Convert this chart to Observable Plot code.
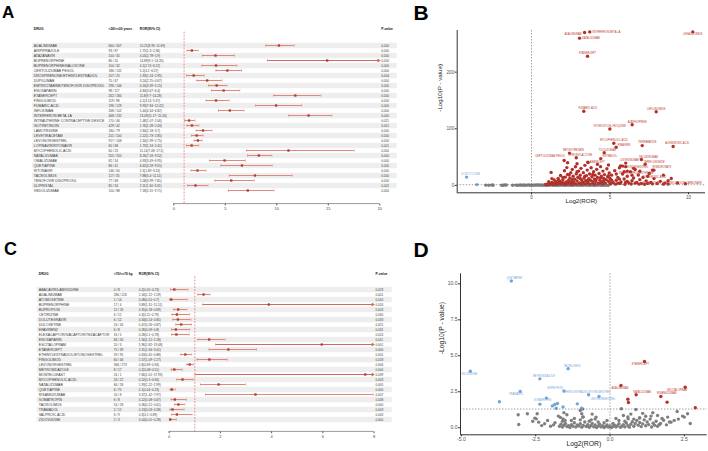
<!DOCTYPE html>
<html><head><meta charset="utf-8">
<script src="https://cdn.jsdelivr.net/npm/d3@7"></script>
<script src="https://cdn.jsdelivr.net/npm/@observablehq/plot@0.6"></script>
<style>
body{margin:0;background:#fff;}
#root{position:relative;width:708px;height:451px;overflow:hidden;font-family:"Liberation Sans",Arial,sans-serif;background:#fff;}
.panel{position:absolute;}
.panel svg{max-width:none;}
.letter{position:absolute;font-weight:bold;line-height:1;color:#000;font-family:"Liberation Sans",Arial,sans-serif;}
</style></head><body><div id="root"></div>
<script>
// ---------------- Panel A data (forest) ----------------
const A_headers = ["DRUG", "<30/>=30 years", "ROR(95% CI)", "P-value"];
const A_drugs = ["ADALIMUMAB","ARIPIPRAZOLE","ATAZANAVIR","BUPRENORPHINE","BUPRENORPHINE/NALOXONE","CERTOLIZUMAB PEGOL","DROSPIRENONE/ETHINYLESTRADIOL","DUPILUMAB","EMTRICITABINE/TENOFOVIR DISOPROXIL","ENOXAPARIN","ETANERCEPT","FINGOLIMOD","FUMARIC ACID","INFLIXIMAB","INTERFERON BETA-1A","INTRAUTERINE CONTRACEPTIVE DEVICE","ISOTRETINOIN","LAMOTRIGINE","LEVETIRACETAM","LEVONORGESTREL","LOPINAVIR/RITONAVIR","MYCOPHENOLIC ACID","NATALIZUMAB","OMALIZUMAB","QUETIAPINE","RITONAVIR","TACROLIMUS","TENOFOVIR DISOPROXIL","ULIPRISTAL","VEDOLIZUMAB"];
const A_counts = ["660 / 307","93 / 87","100 / 45","86 / 20","100 / 32","186 / 132","107 / 25","75 / 67","296 / 146","98 / 117","262 / 184","119 / 98","196 / 129","268 / 102","468 / 232","170 / 46","429 / 42","180 / 79","201 / 100","917 / 168","60 / 68","60 / 23","555 / 250","82 / 54","86 / 41","146 / 60","117 / 35","77 / 68","85 / 34","150 / 88"];
const A_ror = [10.21,1.75,4.05,14.89,4.1,5.2,1.93,3.24,4.16,4.84,11.8,4.1,9.93,5.44,13.09,1.48,1.76,2.84,2.22,2.34,1.73,11.14,8.26,4.93,6.62,2.3,7.88,5.58,2.11,7.18];
const A_lo = [8.93,1.3,2.78,9.1,2.74,4.1,1.24,2.25,3.39,3.67,9.7,3.14,7.94,4.34,11.17,1.07,1.28,2.18,1.73,1.99,1.24,7.08,7.16,3.49,4.59,1.69,5.4,3.99,1.34,5.31];
const A_hi = [11.69,2.36,5.9,24.35,6.12,6.57,2.95,4.67,5.15,6.4,14.28,5.37,12.42,6.82,15.34,2.06,2.43,3.7,2.85,2.75,2.41,17.5,9.52,6.95,9.55,3.13,11.51,7.81,3.31,9.71];
const A_p = ["0.000","0.000","0.000","0.000","0.000","0.000","0.004","0.000","0.000","0.000","0.000","0.000","0.000","0.000","0.000","0.021","0.001","0.000","0.000","0.000","0.001","0.000","0.000","0.000","0.000","0.000","0.000","0.000","0.002","0.000"];
const A_ticks = [0,5,10,15,20];
const A_ref = 1;

// ---------------- Panel C data (forest) ----------------
const C_headers = ["DRUG", "<70/>=70 kg", "ROR(95% CI)", "P-value"];
const C_drugs = ["ABACAVIR/LAMIVUDINE","ADALIMUMAB","ATOMOXETINE","BUPRENORPHINE","BUPROPION","CETIRIZINE","DOLUTEGRAVIR","DULOXETINE","EFAVIRENZ","ELEXACAFTOR/IVACAFTOR/TEZACAFTOR","ENOXAPARIN","ESCITALOPRAM","ETANERCEPT","ETHINYLESTRADIOL/ETONOGESTREL","FINGOLIMOD","LEVONORGESTREL","METRONIDAZOLE","MONTELUKAST","MYCOPHENOLIC ACID","NATALIZUMAB","QUETIAPINE","RISANKIZUMAB","SOMATROPIN","TACROLIMUS","TRAMADOL","VALPROIC ACID","ZIDOVUDINE"];
const C_counts = ["4 / 8","286 / 226","1 / 14","17 / 4","12 / 26","6 / 12","6 / 12","16 / 34","6 / 8","16 / 5","66 / 56","20 / 3","75 / 39","59 / 95","60 / 46","366 / 273","8 / 17","16 / 1","26 / 22","66 / 28","6 / 75","16 / 8","6 / 8","54 / 28","2 / 12","6 / 9","2 / 3"];
const C_ror = [0.2,1.34,0.08,3.89,0.35,0.3,0.34,0.47,0.26,0.28,1.56,5.96,2.31,0.63,1.57,0.8,0.2,7.66,0.52,1.93,0.1,3.37,0.22,0.36,0.13,0.3,0.04];
const C_lo = [0.05,1.12,0.01,1.31,0.18,0.11,0.14,0.26,0.09,0.1,1.12,1.82,1.56,0.45,1.09,0.69,0.08,1.01,0.3,1.22,0.04,1.42,0.08,0.21,0.03,0.1,0.01];
const C_hi = [0.73,1.59,0.7,11.51,0.69,0.79,0.85,0.87,0.8,0.78,2.18,19.48,3.41,0.88,2.27,0.94,0.51,57.93,0.94,2.99,0.23,7.97,0.67,0.61,0.58,0.89,0.28];
const C_p = ["0.023","0.001","0.016","0.016","0.003","0.030","0.033","0.021","0.031","0.024","0.011","0.001","0.000","0.005","0.018","0.006","0.000","0.039","0.043","0.005","0.000","0.007","0.008","0.000","0.003","0.043","0.000"];
const C_ticks = [0,2,4,6,8];
const C_ref = 1;

// ---------------- Panel B data (volcano) ----------------
const B_gray = [[-2.9,0.5],[-2.7,0.3],[-2.5,0.8],[-2.45,0.2],[-1.9,0.4],[-1.8,0.2],[-1.7,0.7],[-1.6,0.9],[-1.2,0.3],[-1.0,0.6],[-0.9,0.2],[-0.8,0.5],[-0.7,0.9],[-0.6,0.3],[-0.5,0.7],[-0.4,0.2],[-0.3,0.5],[-0.2,1.0],[-0.1,0.3],[0.0,0.6],[0.1,0.2],[0.2,0.8],[0.3,0.4],[0.4,1.1],[0.5,0.2],[0.6,0.7],[0.7,0.3],[0.8,0.9],[0.9,0.4],[1.0,0.1],[1.1,0.8],[1.2,0.5],[1.3,1.0],[1.4,0.3],[1.5,0.7],[1.6,0.2],[1.7,0.9],[1.8,0.4],[1.9,1.1],[2.0,0.3],[2.1,0.6],[2.2,0.2],[2.3,0.9],[2.4,0.4],[2.5,0.7],[2.6,0.1],[2.7,0.5],[2.8,1.0],[2.9,0.3],[3.0,0.6],[3.1,0.2],[3.2,0.8],[3.3,0.4],[3.4,1.1],[3.5,0.3],[3.6,0.6],[3.7,0.2],[3.8,0.9],[3.9,0.5],[4.0,0.3],[4.1,0.8],[4.2,0.4],[4.3,1.0],[4.4,0.2],[4.5,0.6],[4.6,0.3],[4.7,0.8],[4.8,0.4],[4.9,0.2]];
const B_up = [[0.9,1.6],[1.0,2.4],[1.05,1.8],[1.15,3.1],[1.2,2.0],[1.25,23],[1.3,5.2],[1.35,1.7],[1.4,3.6],[1.45,9.5],[1.5,2.2],[1.55,6.8],[1.6,4.1],[1.65,1.9],[1.7,12.5],[1.75,3.3],[1.8,7.7],[1.85,17.5],[1.9,2.6],[1.95,5.4],[2.0,10.2],[2.05,3.8],[2.1,26],[2.12,1.8],[2.15,14.6],[2.2,6.1],[2.25,31.5],[2.28,2.9],[2.3,19.3],[2.35,8.8],[2.4,4.4],[2.45,12.9],[2.5,22.4],[2.52,2.1],[2.55,6.9],[2.6,28.3],[2.62,3.5],[2.65,16.2],[2.7,5.1],[2.75,10.8],[2.8,33.1],[2.82,2.3],[2.85,20.4],[2.9,7.9],[2.95,14.2],[3.0,25.3],[3.02,3.2],[3.05,4.6],[3.1,18.1],[3.15,30.2],[3.18,2.0],[3.2,9.7],[3.25,6.3],[3.3,22.6],[3.35,13.1],[3.4,35.5],[3.42,2.7],[3.45,8.2],[3.5,17.3],[3.55,27.1],[3.58,3.9],[3.6,5.4],[3.65,11.9],[3.7,20.1],[3.72,2.4],[3.75,9.1],[3.8,31.2],[3.85,15.3],[3.9,4.2],[3.95,24.1],[4.0,11.2],[4.02,2.2],[4.05,18.2],[4.1,7.1],[4.15,28.4],[4.2,14.1],[4.25,3.3],[4.3,21.2],[4.35,9.3],[4.4,33.2],[4.45,16.1],[4.5,6.2],[4.52,2.5],[4.55,25.3],[4.6,12.2],[4.65,19.1],[4.7,4.1],[4.75,10.3],[4.8,29.4],[4.85,15.2],[4.9,7.3],[4.95,22.1],[5.0,12.4],[5.05,2.9],[5.1,18.2],[5.2,5.3],[5.3,26.1],[5.35,2.3],[5.4,9.2],[5.5,14.3],[5.6,31.1],[5.65,3.6],[5.7,6.2],[5.8,20.1],[5.9,11.3],[5.95,2.1],[6.0,33.2],[6.1,16.1],[6.2,4.2],[6.3,24.1],[6.35,2.6],[6.4,8.3],[6.5,13.2],[6.6,28.1],[6.7,5.2],[6.8,18.3],[6.85,2.4],[6.9,10.2],[7.0,3.3],[7.1,14.2],[7.2,2.2],[7.3,8.1],[7.5,21.2],[7.6,5.1],[7.7,2.8],[7.8,12.1],[8.0,3.4],[8.2,7.2],[8.4,2.3],[8.5,4.1],[8.9,12.2],[9.3,4.3],[2.0,14.2],[2.6,10.1],[3.1,12.3],[3.6,9.2],[4.1,10.1],[4.6,8.2],[5.1,9.3],[5.6,11.2],[6.1,7.1],[2.4,18.3],[2.9,24.2],[3.4,16.1],[3.9,19.2],[4.4,13.3],[4.9,17.1],[5.4,20.2],[5.9,24.1],[6.4,18.2],[6.9,25.1],[7.4,16.2],[1.3,12.1],[1.7,9.2],[2.3,40.1],[2.9,38.2],[3.6,40.3],[4.2,37.1],[4.9,36.2],[5.8,34.1],[6.5,30.2],[7.7,27.1],[8.4,18.2],[1.1,6.5],[1.9,4.8],[2.7,3.0],[3.3,4.7],[3.9,6.8],[4.4,5.0],[5.0,4.3],[5.5,3.9],[6.0,5.6],[6.6,4.0],[7.4,3.6],[8.7,2.6]];
const B_down = [[-4.13,14.7],[-3.48,1.5]];
const B_downLabels = ["DOXYCYCLINE"];
const B_labelNames = ["ADALIMUMAB","INTERFERON BETA-1A","NATALIZUMAB","ETANERCEPT","LENALIDOMIDE","FUMARIC ACID","LEFLUNOMIDE","AZATHIOPRINE","HYDROXYCHLOROQUINE","MYCOPHENOLIC ACID","RIBAVIRIN","TERIPARATIDE","ALENDRONIC ACID","METHOTREXATE","SPIRONOLACTONE","CERTOLIZUMAB PEGOL","TOCILIZUMAB","ESTRADIOL","ABATACEPT","USTEKINUMAB","SECUKINUMAB","TERIFLUNOMIDE","RISEDRONATE","ZOLEDRONIC ACID","LEVONORGESTREL","MEDROXYPROGESTERONE","RISEDRONATE SODIUM/CALCIUM CARBONATE"];
const B_labelX = [3.38,3.71,3.06,3.57,10.27,3.33,7.94,6.41,4.99,5.24,5.39,7.05,9.02,2.42,2.85,2.08,4.63,4.41,3.59,6.0,7.0,7.24,7.79,8.7,5.67,6.1,9.8];
const B_labelY = [270,271,260,228,271,131,130,107,99.6,74.6,67.5,70.3,68.8,57.1,48.8,44.1,57.6,47.4,41.1,39.4,45.9,37.6,27,8.3,34.6,25.2,3];
const B_xTicks = [0,5,10];
const B_yTicks = [0,100,200];

// ---------------- Panel D data (volcano) ----------------
const D_gray = [[-3.09,0.9],[-3.07,0.23],[-2.78,0.97],[-2.53,0.67],[-2.48,0.62],[-2.45,0.97],[-2.4,0.39],[-2.2,0.28],[-1.74,0.81],[-1.67,0.72],[-1.58,0.62],[-1.51,0.51],[-0.92,1.3],[-0.95,0.97],[-0.92,0.74],[-0.63,0.55],[-0.47,0.74],[0.38,1.32],[0.87,1.27],[0.61,0.62],[0.99,0.67],[1.38,0.81],[1.44,1.04],[1.66,0.23],[1.94,0.74],[2.26,1.13],[2.5,0.74],[2.44,0.81],[2.61,0.97],[2.05,0.39],[2.16,0.51],[-1.7,0.1],[-1.65,0.25],[-1.6,0.05],[-1.55,0.18],[-1.5,0.3],[-1.45,0.08],[-1.4,0.15],[-1.35,0.02],[-1.3,0.22],[-1.25,0.1],[-1.2,0.35],[-1.15,0.05],[-1.1,0.2],[-1.05,0.12],[-1.0,0.28],[-0.95,0.04],[-0.9,0.16],[-0.85,0.4],[-0.8,0.09],[-0.75,0.21],[-0.7,0.03],[-0.65,0.14],[-0.6,0.3],[-0.55,0.07],[-0.5,0.19],[-0.45,0.02],[-0.4,0.11],[-0.35,0.25],[-0.3,0.06],[-0.25,0.15],[-0.2,0.01],[-0.15,0.09],[-0.1,0.2],[-0.05,0.04],[0.0,0.12],[0.05,0.02],[0.1,0.08],[0.15,0.18],[0.2,0.05],[0.25,0.14],[0.3,0.28],[0.35,0.03],[0.4,0.1],[0.45,0.22],[0.5,0.06],[0.55,0.33],[0.6,0.15],[0.65,0.04],[0.7,0.24],[0.75,0.42],[0.8,0.1],[0.85,0.3],[0.9,0.5],[0.95,0.18],[1.0,0.36],[1.05,0.08],[1.1,0.27],[1.15,0.55],[1.2,0.14],[1.25,0.4],[1.3,0.22],[1.35,0.6],[1.4,0.05],[1.45,0.32],[1.5,0.18],[1.55,0.45],[1.6,0.1],[1.7,0.3],[1.8,0.52],[1.9,0.2],[2.0,0.4],[-1.6,0.45],[-1.3,0.5],[-1.0,0.55],[-0.7,0.45],[-0.4,0.4],[-0.2,0.35],[0.1,0.3],[0.3,0.5],[0.5,0.45],[0.8,0.6],[1.0,0.7],[1.2,0.8],[0.6,0.75],[-0.5,0.6],[-1.9,0.2],[-2.0,0.1],[-1.85,0.35],[-2.1,0.5],[-2.3,0.15],[-1.2,0.65],[-0.9,0.75],[0.2,0.65],[0.45,0.85],[0.7,0.95],[1.1,1.0],[1.6,0.85],[1.75,0.65],[2.3,0.6],[2.7,0.3],[-0.1,0.5],[-2.6,0.45],[-1.45,0.9],[-1.55,1.05],[-1.0,1.2],[-0.6,0.95]];
const D_names = ["ABACAVIR/LAMIVUDINE","ADALIMUMAB","ATOMOXETINE","BUPRENORPHINE","BUPROPION","CETIRIZINE","DOLUTEGRAVIR","DULOXETINE","EFAVIRENZ","ELEXACAFTOR/IVACAFTOR/TEZACAFTOR","ENOXAPARIN","ESCITALOPRAM","ETANERCEPT","ETHINYLESTRADIOL/ETONOGESTREL","FINGOLIMOD","LEVONORGESTREL","METRONIDAZOLE","MONTELUKAST","MYCOPHENOLIC ACID","NATALIZUMAB","QUETIAPINE","RISANKIZUMAB","SOMATROPIN","TACROLIMUS","TRAMADOL","VALPROIC ACID","ZIDOVUDINE"];
const D_x = [-2.36,0.37,-3.72,1.92,-1.55,-1.77,-1.58,-1.1,-1.94,-1.86,0.6,2.53,1.16,-0.72,0.62,-0.37,-2.36,2.87,-0.96,0.88,-3.32,1.71,-2.14,-1.41,-3.02,-1.81,-4.7];
const D_y = [1.64,2.94,1.81,1.78,2.55,1.69,1.45,1.66,1.52,1.62,1.98,2.82,4.6,2.29,1.76,2.17,3.4,1.39,1.36,2.29,10.2,2.17,2.06,4.1,2.52,1.36,3.93];
const D_labeled = ["ADALIMUMAB","BUPROPION","ESCITALOPRAM","ETANERCEPT","ETHINYLESTRADIOL/ETONOGESTREL","LEVONORGESTREL","METRONIDAZOLE","NATALIZUMAB","QUETIAPINE","RISANKIZUMAB","SOMATROPIN","TACROLIMUS","TRAMADOL","ZIDOVUDINE"];
const D_xTicks = [-5,-2.5,0,2.5];
const D_yTicks = [0,2.5,5,7.5,10];
const P_THRESHOLD = 1.3; // -log10(0.05)

// ---------------- styles ----------------
const FONT = '"Liberation Sans", Arial, sans-serif';
const RED = "#b2302a", BLUE = "#74a3d6", GRAY = "#7f7f7f";
const CI_COL = "#dc8a7d", PT_COL = "#b0392e", REF_COL = "#e5484a";
const B_nudge = {
  "ADALIMUMAB": [-3, 1.5, "end"], "INTERFERON BETA-1A": [2.5, 0.5, "start"], "NATALIZUMAB": [2.5, 0, "start"],
  "ETANERCEPT": [0, -3, "middle"], "LENALIDOMIDE": [0, 2.5, "middle"], "FUMARIC ACID": [4, -3, "middle"],
  "LEFLUNOMIDE": [0, -3, "middle"], "AZATHIOPRINE": [5, -2.5, "middle"], "HYDROXYCHLOROQUINE": [0, -3, "middle"],
  "MYCOPHENOLIC ACID": [0, -3, "middle"], "RIBAVIRIN": [1.5, -2.5, "start"], "TERIPARATIDE": [5, -3, "middle"],
  "ALENDRONIC ACID": [4, -3, "middle"], "METHOTREXATE": [4, -3, "middle"], "SPIRONOLACTONE": [4, -3, "middle"],
  "CERTOLIZUMAB PEGOL": [-14, -4, "middle"], "TOCILIZUMAB": [3, -2.5, "middle"], "ESTRADIOL": [9, -2, "middle"],
  "ABATACEPT": [2, 0, "start"], "USTEKINUMAB": [4, -3, "middle"], "SECUKINUMAB": [7, -2, "middle"],
  "TERIFLUNOMIDE": [9, -2, "middle"], "RISEDRONATE": [8, -3, "middle"], "ZOLEDRONIC ACID": [-14, -4, "middle"],
  "LEVONORGESTREL": [3, 1, "start"], "MEDROXYPROGESTERONE": [9, 1.5, "middle"],
  "RISEDRONATE SODIUM/CALCIUM CARBONATE": [-13, -1, "middle"], "DOXYCYCLINE": [4, -3, "middle"]
};
const D_nudge = {
  "QUETIAPINE": [3, -3], "ZIDOVUDINE": [-1, 2.5], "TACROLIMUS": [4, -3], "METRONIDAZOLE": [4, -2.5],
  "TRAMADOL": [-4, 3], "BUPROPION": [-9, -3], "SOMATROPIN": [-4, 2.5], "ETHINYLESTRADIOL/ETONOGESTREL": [-2, -3],
  "LEVONORGESTREL": [4, 3], "ADALIMUMAB": [-1, 3], "ETANERCEPT": [-4, 2.5], "NATALIZUMAB": [6, -3],
  "RISANKIZUMAB": [6, -3], "ESCITALOPRAM": [-8, 2.5]
};

const vbar = {draw(ctx, size) { const r = Math.sqrt(size / Math.PI); ctx.moveTo(0, -r); ctx.lineTo(0, r); }};

function forest(cfg) {
  const rows = cfg.drugs.map((drug, i) => ({
    drug, count: cfg.counts[i], ror: cfg.ror[i], lo: cfg.lo[i], hi: cfg.hi[i], p: cfg.p[i],
    ci: `${cfg.ror[i]}(${cfg.lo[i]}~${cfg.hi[i]})`
  }));
  const [xmin, xmax] = cfg.xDomain;
  const step = (cfg.height - cfg.marginTop - cfg.marginBottom) / rows.length;
  const inside = rows.filter(d => d.hi <= xmax);
  const outside = rows.filter(d => d.hi > xmax);
  const L = cfg.marginLeft, R = cfg.width - cfg.marginRight;
  const T = {fill: "#3a3a3a", lineAnchor: "middle"};
  const H = {fill: "#111", fontWeight: "bold", fontSize: 3.3, lineAnchor: "middle", dy: -step / 2, text: d => d};
  const axisLine = (index, scales, values, dims) => {
    const y = dims.height - dims.marginBottom;
    return d3.create("svg:line").attr("x1", scales.x(xmin)).attr("x2", scales.x(xmax))
      .attr("y1", y).attr("y2", y).attr("stroke", "#555").attr("stroke-width", 0.6).node();
  };
  return Plot.plot({
    width: cfg.width, height: cfg.height,
    marginTop: cfg.marginTop, marginBottom: cfg.marginBottom, marginLeft: L, marginRight: cfg.marginRight,
    style: {fontFamily: FONT, fontSize: "4px", color: "#444", background: "transparent", overflow: "visible"},
    x: {domain: cfg.xDomain},
    y: {type: "point", domain: cfg.drugs, padding: 0.5, axis: null},
    marks: [
      Plot.ruleY(rows.filter((d, i) => i % 2 === 0), {y: "drug", stroke: "#eeeeee", strokeWidth: step,
        insetLeft: cfg.stripeLeft - L, insetRight: R - cfg.stripeRight}),
      Plot.ruleX([cfg.ref], {stroke: REF_COL, strokeDasharray: "1.8,1.4", strokeWidth: 0.6}),
      Plot.ruleY(inside, {y: "drug", x1: "lo", x2: "hi", stroke: CI_COL, strokeWidth: 1.1}),
      Plot.arrow(outside, {y1: "drug", y2: "drug", x1: "lo", x2: () => xmax, stroke: "#cf6b5e", strokeWidth: 1.1, headLength: 3}),
      Plot.dot(rows, {x: "lo", y: "drug", symbol: vbar, r: 1.1, stroke: CI_COL, fill: "none", strokeWidth: 0.8}),
      Plot.dot(inside, {x: "hi", y: "drug", symbol: vbar, r: 1.1, stroke: CI_COL, fill: "none", strokeWidth: 0.8}),
      Plot.dot(rows.filter(d => d.ror <= xmax), {x: "ror", y: "drug", symbol: "square", r: 1.3, fill: PT_COL}),
      Plot.text(rows, {...T, y: "drug", text: "drug", frameAnchor: "left", dx: cfg.colDrug - L, textAnchor: "start", fontSize: 3.5}),
      Plot.text(rows, {...T, y: "drug", text: "count", frameAnchor: "left", dx: cfg.colCount - L, textAnchor: "start", fontSize: 3.1}),
      Plot.text(rows, {...T, y: "drug", text: "ci", frameAnchor: "left", dx: cfg.colCI - L, textAnchor: "start", fontSize: 3.1}),
      Plot.text(rows, {...T, y: "drug", text: "p", frameAnchor: "right", dx: cfg.colP - R, textAnchor: "start", fontSize: 3.1}),
      Plot.text([cfg.headers[0]], {...H, frameAnchor: "top-left", dx: cfg.colDrug - L, textAnchor: "start"}),
      Plot.text([cfg.headers[1]], {...H, frameAnchor: "top-left", dx: cfg.colCount - L, textAnchor: "start"}),
      Plot.text([cfg.headers[2]], {...H, frameAnchor: "top-left", dx: cfg.colCI - L, textAnchor: "start"}),
      Plot.text([cfg.headers[3]], {...H, frameAnchor: "top-right", dx: cfg.colP - R, textAnchor: "start"}),
      Plot.axisX({ticks: cfg.ticks, tickSize: 1.8, tickPadding: 1, fontSize: 4, label: null, stroke: "#555"}),
      axisLine
    ]
  });
}

function volcano(cfg) {
  const L = cfg.marginLeft;
  const labelMarks = cfg.labels.map(l => Plot.text([l], {
    x: d => d.x, y: d => d.y, text: d => d.name, fill: l.color, fontSize: 2.6,
    dx: l.nudge[0], dy: l.nudge[1], textAnchor: l.nudge[2] || "middle", lineAnchor: "middle"
  }));
  return Plot.plot({
    width: cfg.width, height: cfg.height,
    marginTop: cfg.marginTop, marginBottom: cfg.marginBottom, marginLeft: L, marginRight: cfg.marginRight,
    style: {fontFamily: FONT, fontSize: "5px", color: "#4d4d4d", background: "transparent", overflow: "visible"},
    x: {domain: cfg.xDomain},
    y: {domain: cfg.yDomain},
    marks: [
      Plot.dot(cfg.gray, {x: d => d[0], y: d => d[1], r: 1.7, fill: GRAY}),
      Plot.dot(cfg.up, {x: d => d[0], y: d => d[1], r: 1.7, fill: RED}),
      Plot.dot(cfg.down, {x: d => d[0], y: d => d[1], r: 1.7, fill: BLUE}),
      Plot.ruleX([0], {stroke: "#666", strokeDasharray: "1.5,1.5", strokeWidth: 0.6}),
      Plot.ruleY([P_THRESHOLD], {stroke: "#666", strokeDasharray: "1.5,1.5", strokeWidth: 0.6}),
      ...labelMarks,
      Plot.ruleX([cfg.xDomain[0]], {stroke: "#333", strokeWidth: 1}),
      Plot.ruleY([cfg.yDomain[0]], {stroke: "#333", strokeWidth: 1}),
      Plot.axisX({ticks: cfg.xTicks, tickFormat: cfg.fmt, tickSize: 2, tickPadding: 1, fontSize: cfg.tickFont, label: null, stroke: "#333"}),
      Plot.axisY({ticks: cfg.yTicks, tickFormat: cfg.fmt, tickSize: 2, tickPadding: 1, fontSize: cfg.tickFont, label: null, stroke: "#333"}),
      Plot.text(["Log2(ROR)"], {text: d => d, frameAnchor: "bottom", dy: cfg.xLabelDy, fontSize: cfg.titleFont, fill: "#222"}),
      Plot.text(["-Log10(P - value)"], {text: d => d, frameAnchor: "left", rotate: -90, dx: cfg.yLabelX - L, fontSize: cfg.titleFont, fill: "#222"})
    ]
  });
}

const root = document.getElementById("root");
function place(node, left, top) {
  const div = document.createElement("div");
  div.className = "panel"; div.style.left = left + "px"; div.style.top = top + "px";
  div.appendChild(node); root.appendChild(div);
}
function letter(t, left, top, size) {
  const div = document.createElement("div");
  div.className = "letter"; div.textContent = t;
  div.style.left = left + "px"; div.style.top = top + "px"; div.style.fontSize = size + "px";
  root.appendChild(div);
}

place(forest({
  drugs: A_drugs, counts: A_counts, ror: A_ror, lo: A_lo, hi: A_hi, p: A_p, headers: A_headers,
  xDomain: [0, 20], ticks: A_ticks, ref: A_ref,
  width: 400, height: 200, marginTop: 11.6, marginBottom: 16.4, marginLeft: 173.3, marginRight: 20.7,
  colDrug: 33.3, colCount: 108, colCI: 139.3, colP: 380.7, stripeLeft: 31.8, stripeRight: 396.7
}), 0, 20);

place(forest({
  drugs: C_drugs, counts: C_counts, ror: C_ror, lo: C_lo, hi: C_hi, p: C_p, headers: C_headers,
  xDomain: [0, 8], ticks: C_ticks, ref: C_ref,
  width: 400, height: 206, marginTop: 31.4, marginBottom: 19.6, marginLeft: 168.7, marginRight: 26.5,
  colDrug: 38.3, colCount: 113.3, colCI: 138.3, colP: 375, stripeLeft: 36.7, stripeRight: 391.7
}), 0, 245);

const B_labels = B_labelNames.map((name, i) => ({name, x: B_labelX[i], y: B_labelY[i], color: "#c0392b", nudge: B_nudge[name] || [0, -3]}))
  .concat(B_downLabels.map((name, i) => ({name, x: B_down[i][0], y: B_down[i][1], color: BLUE, nudge: B_nudge[name] || [0, -3]})));
place(volcano({
  gray: B_gray, up: B_up.concat(B_labelX.map((x, i) => [x, B_labelY[i]])), down: B_down, labels: B_labels,
  xDomain: [-4.73, 11.08], yDomain: [-13, 273.5], xTicks: B_xTicks, yTicks: B_yTicks, fmt: d => String(d),
  width: 308, height: 200, marginTop: 10, marginBottom: 27.7, marginLeft: 56.7, marginRight: 3,
  tickFont: 4.6, titleFont: 6.2, xLabelDy: 10.4, yLabelX: 440 - 400
}), 400, 20);

const D_pts = D_names.map((name, i) => ({name, x: D_x[i], y: D_y[i]}));
const D_labels = D_pts.filter(d => D_labeled.includes(d.name))
  .map(d => ({...d, color: d.x > 0 ? "#c0392b" : BLUE, nudge: D_nudge[d.name] || [0, -3]}));
place(volcano({
  gray: D_gray, up: D_pts.filter(d => d.x > 0).map(d => [d.x, d.y]), down: D_pts.filter(d => d.x < 0).map(d => [d.x, d.y]),
  labels: D_labels,
  xDomain: [-5.03, 3.27], yDomain: [-0.49, 10.7], xTicks: D_xTicks, yTicks: D_yTicks, fmt: d => d.toFixed(1),
  width: 308, height: 206, marginTop: 28.3, marginBottom: 16.7, marginLeft: 60, marginRight: 1.3,
  tickFont: 5, titleFont: 6.8, xLabelDy: 11.3, yLabelX: 441.7 - 400
}), 400, 245);

letter("A", 2, 3.6, 17);
letter("B", 413.5, 2.3, 21);
letter("C", 4, 239.6, 18);
letter("D", 413.5, 239, 21);
</script></body></html>
